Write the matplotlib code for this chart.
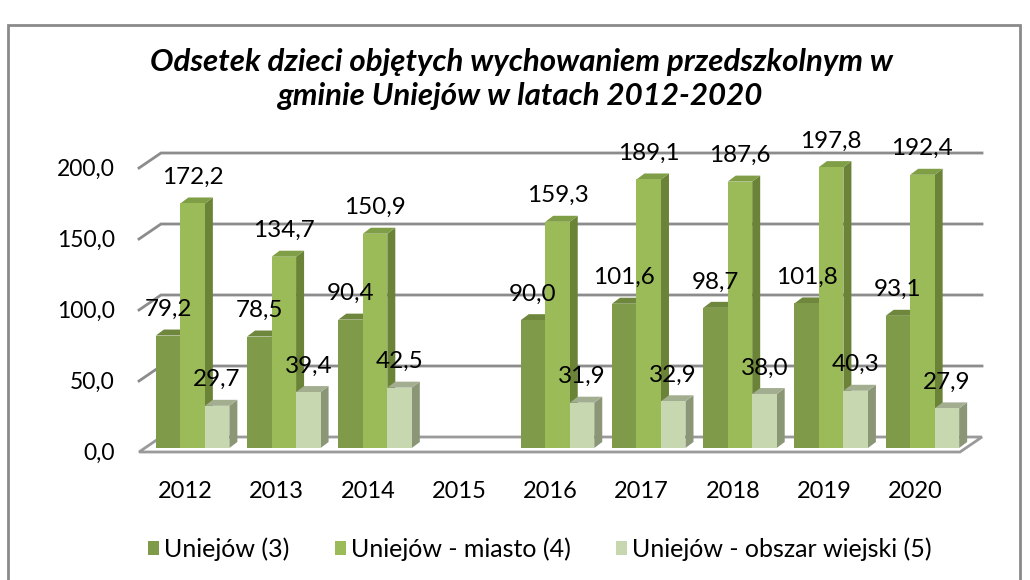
import numpy as np
import matplotlib
matplotlib.use("Agg")
import matplotlib.pyplot as plt
from matplotlib.patches import Polygon, Patch, Rectangle
from matplotlib.transforms import ScaledTranslation

# ---------------- data ----------------
years = ["2012", "2013", "2014", "2015", "2016", "2017", "2018", "2019", "2020"]
uniejow = [79.2, 78.5, 90.4, np.nan, 90.0, 101.6, 98.7, 101.8, 93.1]
miasto = [172.2, 134.7, 150.9, np.nan, 159.3, 189.1, 187.6, 197.8, 192.4]
wiejski = [29.7, 39.4, 42.5, np.nan, 31.9, 32.9, 38.0, 40.3, 27.9]
series_names = ["Uniejów (3)", "Uniejów - miasto (4)", "Uniejów - obszar wiejski (5)"]
y_ticks = [0, 50, 100, 150, 200]
title = "Odsetek dzieci objętych wychowaniem przedszkolnym w\ngminie Uniejów w latach 2012-2020"

# ---------------- style ----------------
FONT = "Lato"
front_cols = ["#7F9A48", "#9BBB59", "#C7D7AF"]
side_cols = ["#5F7433", "#6A8337", "#8A9676"]
top_cols = ["#6E873C", "#7F9E45", "#A3AE91"]
grid_col = "#8C8C8C"

W, H = 1030, 580
fig = plt.figure(figsize=(W / 100, H / 100), dpi=100)
fig.patch.set_facecolor("white")

# axes = front plane of the bars
ax = fig.add_axes([147 / W, (H - 448) / H, 821 / W, 284 / H])
ax.set_xlim(-0.5, len(years) - 0.5)
ax.set_ylim(0, 200)
ax.axis("off")


def off(dx, dy):
    """transform shifted by (dx, dy) display pixels"""
    return ax.transData + ScaledTranslation(dx / 100, dy / 100, fig.dpi_scale_trans)


FLOOR = (-8, -4)   # front edge of floor relative to bar plane (px)
WALL = (14, 11)    # back wall relative to bar plane (px)
DEPTH = (8, 6)     # bar depth (px)

sx = 821 / len(years)          # px per category
sy = 284 / 200                 # px per unit
ddx, ddy = DEPTH[0] / sx, DEPTH[1] / sy
fdx, fdy = FLOOR[0] / sx, FLOOR[1] / sy
wdx, wdy = WALL[0] / sx, WALL[1] / sy

x0, x1 = -0.5, len(years) - 0.5

# gridlines on back wall with slanted left segment
for v in y_ticks[1:]:
    ax.plot([x0 + fdx, x0 + wdx, x1 + wdx], [v + fdy, v + wdy, v + wdy],
            color=grid_col, lw=2, zorder=1, clip_on=False, solid_joinstyle="miter")

# floor
floor = Polygon([(x0 + fdx, fdy), (x1 + fdx, fdy), (x1 + wdx, wdy), (x0 + wdx, wdy)],
                closed=True, facecolor="white", edgecolor="#9A9A9A", lw=2,
                zorder=2, clip_on=False)
ax.add_patch(floor)

# bars
x = np.arange(len(years))
bw = 24.5 / sx
data = [uniejow, miasto, wiejski]
handles = []
for j, vals in enumerate(data):
    xs = x + (j - 1) * bw
    bars = ax.bar(xs, vals, width=bw, color=front_cols[j], edgecolor="none",
                  clip_on=False, label=series_names[j])
    for i, (b, v) in enumerate(zip(bars, vals)):
        base_z = 10 + 10 * i + 3 * j
        b.set_zorder(base_z + 2)
        if np.isnan(v):
            continue
        xl = xs[i] - bw / 2
        xr = xs[i] + bw / 2
        side = Polygon([(xr, 0), (xr + ddx, ddy), (xr + ddx, v + ddy), (xr, v)],
                       closed=True, facecolor=side_cols[j], edgecolor="none",
                       zorder=base_z, clip_on=False)
        top = Polygon([(xl, v), (xr, v), (xr + ddx, v + ddy), (xl + ddx, v + ddy)],
                      closed=True, facecolor=top_cols[j], edgecolor="none",
                      zorder=base_z + 1, clip_on=False)
        ax.add_patch(side)
        ax.add_patch(top)
        lab = f"{v:.1f}".replace(".", ",")
        ax.text(xs[i], v, lab, transform=off(0, 26), ha="center", va="center",
                fontsize=17.5, family=FONT, color="black", zorder=200, clip_on=False)
    handles.append(Patch(facecolor=front_cols[j], edgecolor="none", label=series_names[j]))

# y tick labels
for v in y_ticks:
    ax.text(x0, v, f"{v:.1f}".replace(".", ","), transform=off(-32, -5),
            ha="right", va="center", fontsize=16.5, family=FONT, clip_on=False)

# x tick labels
for i, yr in enumerate(years):
    ax.text(i, 0, yr, transform=off(-7, -44), ha="center", va="center",
            fontsize=17, family=FONT, clip_on=False)

# title
fig.text(521 / W, 1 - 79 / H, title, ha="center", va="center", fontsize=22.5,
         family=FONT, fontweight="bold", fontstyle="italic", linespacing=1.3)

# legend
leg = fig.legend(handles=handles, loc="center", bbox_to_anchor=(540 / W, 1 - 549 / H),
                 ncol=3, frameon=False, prop={"family": FONT, "size": 18},
                 handlelength=0.45, handleheight=0.45, handletextpad=0.2,
                 columnspacing=1.8)

# outer border
fig.patches.append(Rectangle((8 / W, -0.05), (1020 - 8) / W, 1.05 - 25 / H,
                             transform=fig.transFigure, fill=False,
                             edgecolor="#8A8A8A", lw=2))

fig.savefig("out.png", dpi=100)
